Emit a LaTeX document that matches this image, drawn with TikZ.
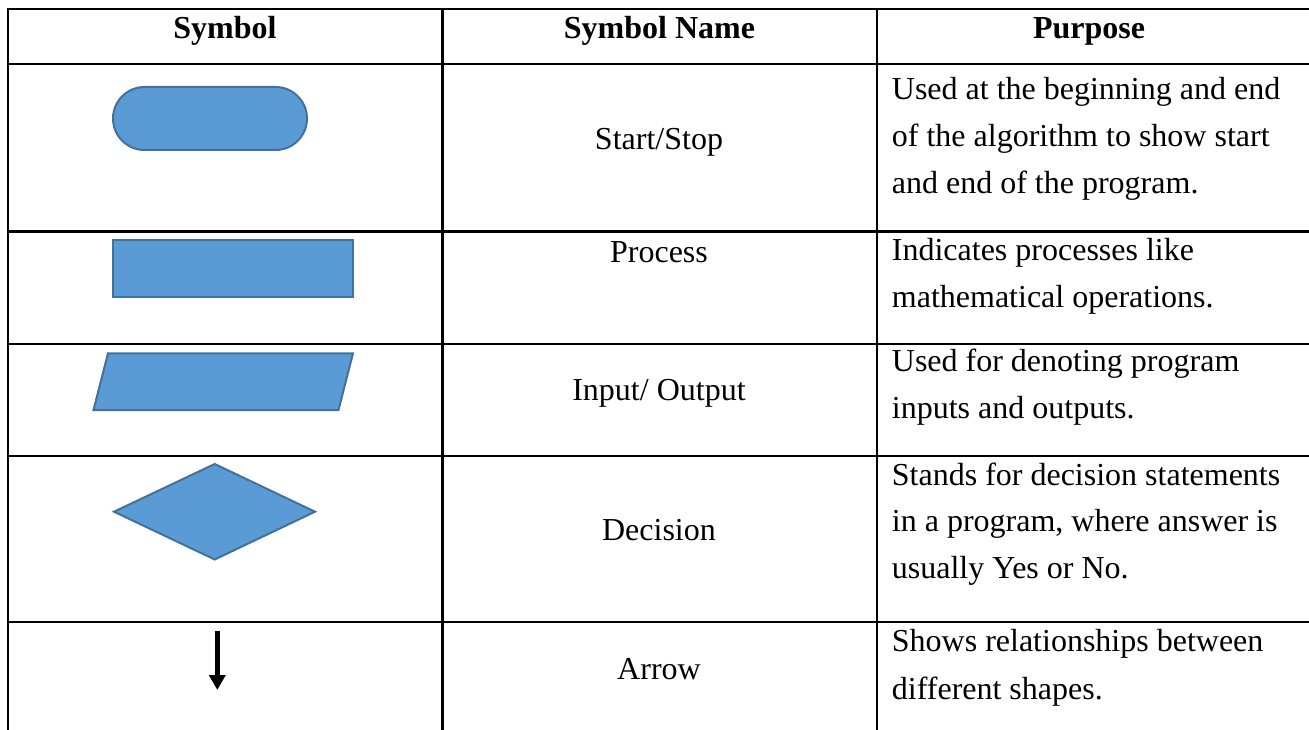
\documentclass[tikz,border=0pt]{standalone}
\usepackage{fontspec}
\setmainfont{Liberation Serif}
\usetikzlibrary{arrows.meta}
\definecolor{shapefill}{HTML}{5B9BD5}
\definecolor{shapeedge}{HTML}{41719C}
\begin{document}
\begin{tikzpicture}[x=1pt,y=-1pt,
  rule/.style={line width=2.4pt, black, line cap=rect},
  sym/.style={fill=shapefill, draw=shapeedge, line width=2pt, line join=miter},
  cell/.style={inner sep=0pt, anchor=base, font=\fontsize{32}{40}\selectfont},
  head/.style={inner sep=0pt, anchor=base, font=\fontsize{32}{40}\selectfont\bfseries},
  desc/.style={inner sep=0pt, anchor=base west, font=\fontsize{32}{40}\selectfont}]
\useasboundingbox (0,0) rectangle (1309,730);

% table rules
\foreach \yy in {9,64.3,231.7,343.7,456,622}
  \draw[rule] (8,\yy) -- (1312,\yy);
\foreach \xx in {8,442.5,876.7}
  \draw[rule] (\xx,9) -- (\xx,733);

% header
\node[head] (h1) at (225,39) {Symbol};
\node[head] (h2) at (659.5,39) {Symbol Name};
\node[head] (h3) at (1089,39) {Purpose};

% symbols
\draw[sym, rounded corners=31.5pt] (113,87) rectangle (307,150);
\draw[sym] (113,240.3) rectangle (353,297.3);
\draw[sym] (108,353.3) -- (353,353.3) -- (338.5,410) -- (93.5,410) -- cycle;
\draw[sym] (214.7,464) -- (315,511.7) -- (214.7,559.5) -- (114,511.7) -- cycle;
\coordinate (atop) at (217.3,630.7);
\coordinate (abot) at (217.3,690);
\draw[line width=5pt, -{Triangle[width=16pt,length=15pt]}] (atop) -- (abot);

% symbol names
\node[cell] (n1) at (659,150) {Start/Stop};
\node[cell] (n2) at (659,262.3) {Process};
\node[cell] (n3) at (659,400.7) {Input/ Output};
\node[cell] (n4) at (659,540) {Decision};
\node[cell] (n5) at (659,679.3) {Arrow};

% purposes
\node[desc] (p1a) at (891.7,100) {Used at the beginning and end};
\node[desc] (p1b) at (891.7,146.7) {of the algorithm to show start};
\node[desc] (p1c) at (891.7,193.3) {and end of the program.};
\node[desc] (p2a) at (891.7,260.7) {Indicates processes like};
\node[desc] (p2b) at (891.7,307.7) {mathematical operations.};
\node[desc] (p3a) at (891.7,371.7) {Used for denoting program};
\node[desc] (p3b) at (891.7,418.3) {inputs and outputs.};
\node[desc] (p4a) at (891.7,485) {Stands for decision statements};
\node[desc] (p4b) at (891.7,531.7) {in a program, where answer is};
\node[desc] (p4c) at (891.7,578.3) {usually Yes or No.};
\node[desc] (p5a) at (891.7,651.7) {Shows relationships between};
\node[desc] (p5b) at (891.7,699.3) {different shapes.};
\end{tikzpicture}
\end{document}
